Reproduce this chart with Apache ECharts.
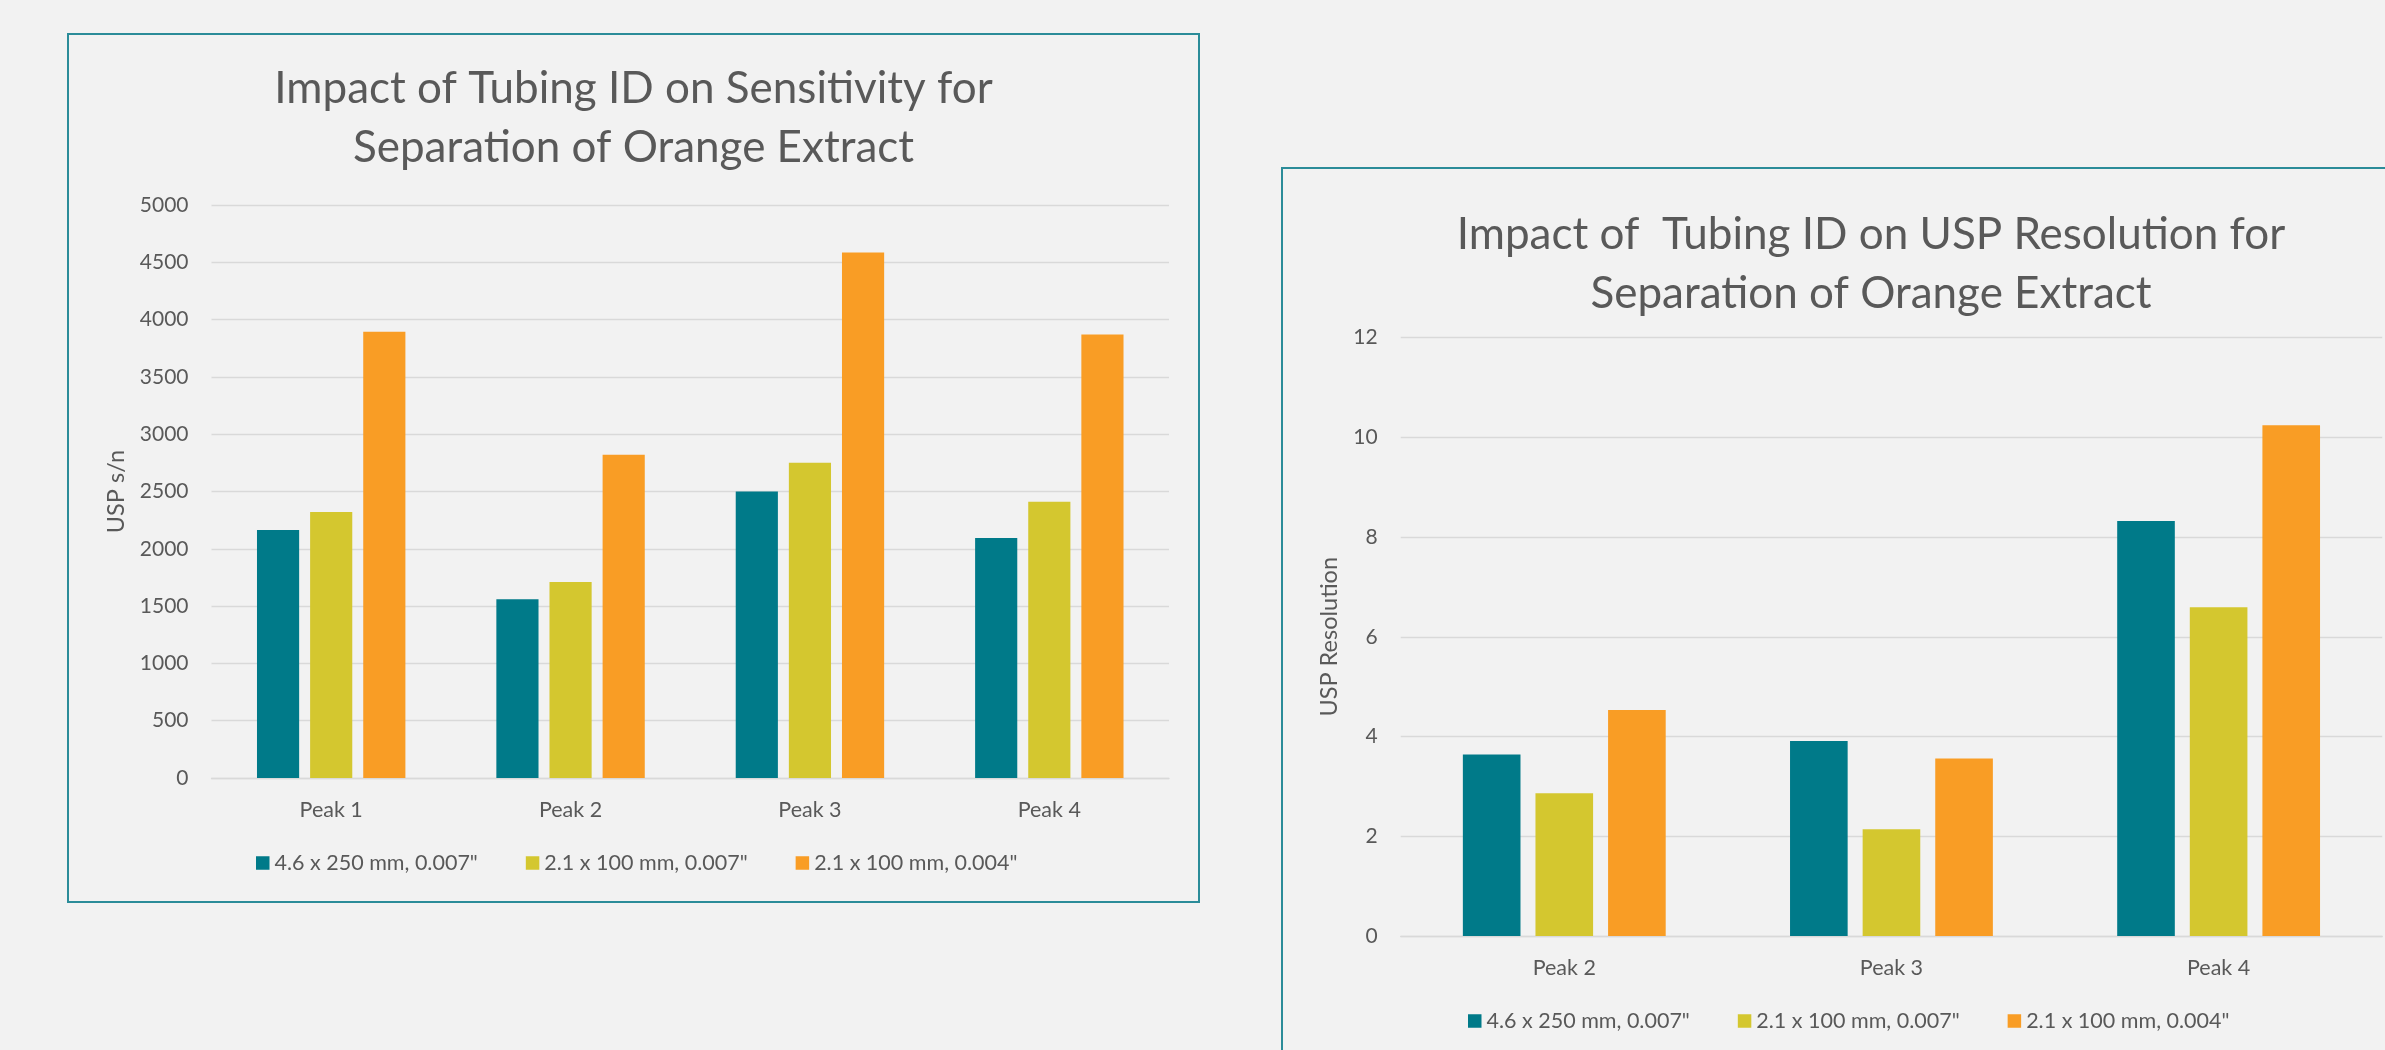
<!DOCTYPE html>
<html>
<head>
<meta charset="utf-8">
<script src="https://cdn.jsdelivr.net/npm/echarts@6/dist/echarts.min.js"></script>
<style>
  html, body { margin: 0; padding: 0; width: 2385px; height: 1050px; overflow: hidden; background: #F2F2F2; }
  .panel { position: absolute; box-sizing: border-box; border: 2px solid #2B8C99; background: #F2F2F2; }
  #sens { left: 67px; top: 33px; width: 1133px; height: 870px; }
  #res { left: 1281px; top: 167px; width: 1180px; height: 920px; }
</style>
</head>
<body>
<div id="sens" class="panel"></div>
<div id="res" class="panel"></div>
<script>
// Series names (tubing / column configurations)
const seriesNames = ['4.6 x 250 mm, 0.007"', '2.1 x 100 mm, 0.007"', '2.1 x 100 mm, 0.004"'];
const seriesColors = ['#007A89', '#D4C72F', '#F99D25'];

// Sensitivity chart (USP s/n)
const sensCategories = ['Peak 1', 'Peak 2', 'Peak 3', 'Peak 4'];
const sens46x250_007 = [2163, 1560, 2500, 2095];
const sens21x100_007 = [2322, 1710, 2750, 2410];
const sens21x100_004 = [3895, 2820, 4585, 3870];
const sensTicks = { min: 0, max: 5000, interval: 500 };

// Resolution chart (USP Resolution)
const resCategories = ['Peak 2', 'Peak 3', 'Peak 4'];
const res46x250_007 = [3.64, 3.91, 8.32];
const res21x100_007 = [2.86, 2.14, 6.59];
const res21x100_004 = [4.53, 3.56, 10.24];
const resTicks = { min: 0, max: 12, interval: 2 };

const FONT = 'Lato, "Open Sans", sans-serif';
const TEXT = '#595959';
const GRID_LINE = '#D9D9D9';

function buildOption(cfg) {
  return {
    backgroundColor: '#F2F2F2',
    animation: false,
    textStyle: { fontFamily: FONT, color: TEXT },
    title: {
      text: cfg.title,
      left: 'center',
      top: cfg.titleTop,
      textStyle: { fontFamily: FONT, fontSize: 44, fontWeight: 'normal', color: TEXT, lineHeight: 59 }
    },
    legend: {
      data: seriesNames,
      left: cfg.legendLeft,
      top: cfg.legendTop,
      padding: 0,
      icon: 'rect',
      itemWidth: 13.5,
      itemHeight: 13.5,
      itemGap: 48,
      textStyle: { fontFamily: FONT, fontSize: 21.5, color: TEXT }
    },
    grid: cfg.grid,
    xAxis: {
      type: 'category',
      data: cfg.categories,
      axisLine: { show: true, lineStyle: { color: GRID_LINE, width: 1.3 } },
      axisTick: { show: false },
      axisLabel: { fontFamily: FONT, fontSize: 21.5, color: TEXT, margin: 21 }
    },
    yAxis: {
      type: 'value',
      min: cfg.ticks.min,
      max: cfg.ticks.max,
      interval: cfg.ticks.interval,
      name: cfg.yName,
      nameLocation: 'middle',
      nameGap: cfg.yNameGap,
      nameTextStyle: { fontFamily: FONT, fontSize: 23.5, color: TEXT },
      axisLine: { show: false },
      axisTick: { show: false },
      axisLabel: {
        fontFamily: FONT, fontSize: 21, color: TEXT, margin: 23,
        formatter: v => String(v)
      },
      splitLine: { lineStyle: { color: GRID_LINE, width: 1.3 } }
    },
    series: cfg.values.map((vals, i) => ({
      name: seriesNames[i],
      type: 'bar',
      data: vals,
      barGap: '26%',
      barCategoryGap: '38%',
      itemStyle: { color: seriesColors[i] }
    }))
  };
}

echarts.init(document.getElementById('sens'), null, { renderer: 'canvas' }).setOption(buildOption({
  title: 'Impact of Tubing ID on Sensitivity for\nSeparation of Orange Extract',
  titleTop: 19,
  categories: sensCategories,
  values: [sens46x250_007, sens21x100_007, sens21x100_004],
  ticks: sensTicks,
  yName: 'USP s/n',
  yNameGap: 82,
  grid: { left: 142.5, top: 170, width: 957.5, height: 573 },
  legendLeft: 187,
  legendTop: 817
}));

echarts.init(document.getElementById('res'), null, { renderer: 'canvas' }).setOption(buildOption({
  title: 'Impact of  Tubing ID on USP Resolution for\nSeparation of Orange Extract',
  titleTop: 31,
  categories: resCategories,
  values: [res46x250_007, res21x100_007, res21x100_004],
  ticks: resTicks,
  yName: 'USP Resolution',
  yNameGap: 59,
  grid: { left: 117.7, top: 168.5, width: 981.5, height: 598.5 },
  legendLeft: 185,
  legendTop: 841
}));
</script>
</body>
</html>
